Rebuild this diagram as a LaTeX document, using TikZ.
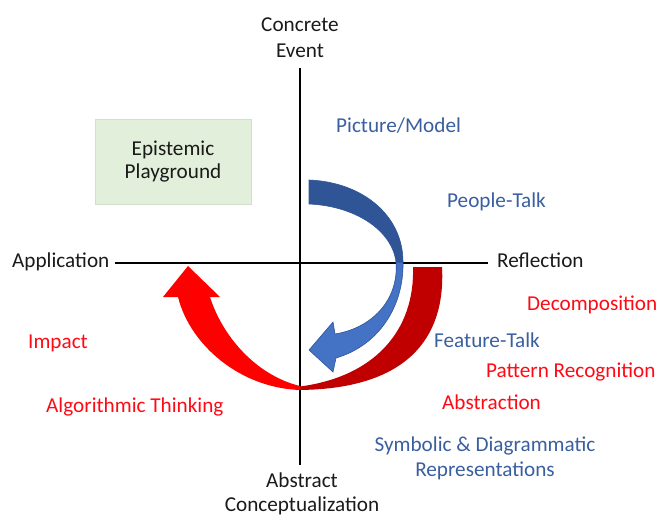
\documentclass[tikz,border=0pt]{standalone}
\usepackage{fontspec}
\setmainfont{Carlito}
\definecolor{txtblue}{HTML}{3A5FA0}
\definecolor{txtred}{HTML}{FF0A14}
\definecolor{txtblack}{HTML}{1A1A1A}
\definecolor{boxgreen}{HTML}{E2EFDA}
\definecolor{bluedark}{HTML}{2F5597}
\definecolor{bluelight}{HTML}{4472C4}
\definecolor{reddark}{HTML}{C00000}
\definecolor{redbright}{HTML}{FF0000}
\begin{document}
\begin{tikzpicture}[x=1pt,y=-1pt,
  lbl/.style={font=\fontsize{21.2}{25}\selectfont, inner sep=0pt, anchor=base},
  lblw/.style={lbl, anchor=base west},
  axisline/.style={line width=2.6pt, draw=black},
  pgbox/.style={fill=boxgreen, draw=boxgreen!85!gray, line width=0.3pt, minimum width=156pt, minimum height=85pt, align=center, inner sep=0pt, font=\fontsize{21.2}{23}\selectfont, text=txtblack}]
\useasboundingbox (0,0) rectangle (659,517);
% axes
\coordinate (top) at (300,68);
\coordinate (bottom) at (300,465);
\coordinate (left) at (115,263);
\coordinate (right) at (488,263);
\draw[axisline] (left) -- (right);
\draw[axisline] (top) -- (bottom);
% red arrow
\fill[reddark] (442,267) .. controls (446,340) and (405,390) .. (296,390)
  -- (296,387) .. controls (375,378) and (415,330) .. (413,267) -- cycle;
\fill[redbright] (300,390) .. controls (240,388) and (190,345) .. (178,297)
  -- (163,297) -- (188,266) -- (220,297) -- (210,297)
  .. controls (222,335) and (255,375) .. (300,386) -- cycle;
% blue arrow
\filldraw[fill=bluelight, draw=bluedark, line width=0.6pt]
  (396,262) .. controls (399,300) and (372,328) .. (335,334)
  -- (333,322) -- (309,350) -- (333,372) -- (336,358)
  .. controls (380,345) and (404,305) .. (403,262) -- cycle;
\filldraw[fill=bluedark, draw=bluedark, line width=0.6pt]
  (309,180) .. controls (362,182) and (403,215) .. (403,262)
  -- (396,262) .. controls (392,230) and (355,206) .. (309,204) -- cycle;
% box
\node[pgbox] (pg) at (173,161.5) {Epistemic\\Playground};
% axis labels
\node[lbl, text=txtblack] (ce1) at (300,31) {Concrete};
\node[lbl, text=txtblack] (ce2) at (300,57) {Event};
\node[lblw, text=txtblack] (app) at (12,267) {Application};
\node[lblw, text=txtblack] (refl) at (497,267) {Reflection};
\node[lbl, text=txtblack] (ac1) at (302,487) {Abstract};
\node[lbl, text=txtblack] (ac2) at (302,511) {Conceptualization};
% blue labels
\node[lblw, text=txtblue] (pm) at (336,132) {Picture/Model};
\node[lblw, text=txtblue] (pt) at (447,207) {People-Talk};
\node[lblw, text=txtblue] (ft) at (434,347) {Feature-Talk};
\node[lbl, text=txtblue] (sd1) at (485,451) {Symbolic \& Diagrammatic};
\node[lbl, text=txtblue] (sd2) at (485,476) {Representations};
% red labels
\node[lblw, text=txtred] (dec) at (527,310) {Decomposition};
\node[lblw, text=txtred] (pr) at (486,377) {Pattern Recognition};
\node[lblw, text=txtred] (abs) at (442,409) {Abstraction};
\node[lblw, text=txtred] (imp) at (28,348) {Impact};
\node[lblw, text=txtred] (alg) at (46,412) {Algorithmic Thinking};
\end{tikzpicture}
\end{document}
